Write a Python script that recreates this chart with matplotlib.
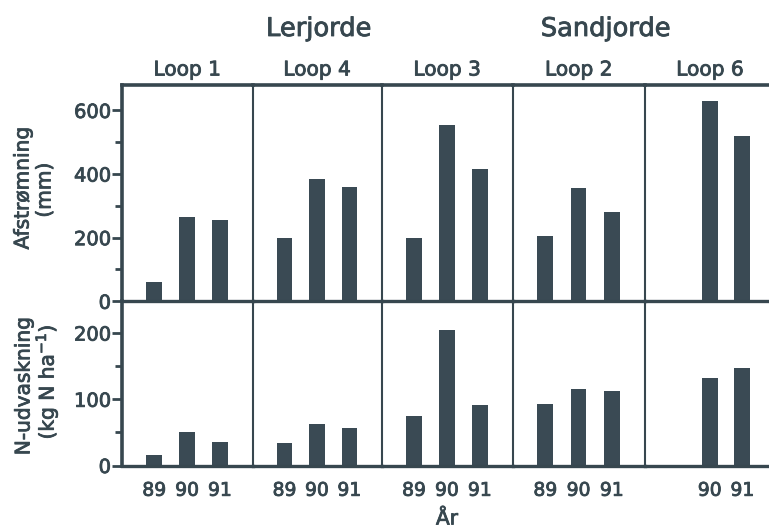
import numpy as np
import matplotlib.pyplot as plt
import matplotlib.patheffects as pe
from matplotlib.ticker import MultipleLocator

plt.rcParams['font.family'] = ['DejaVu Sans']

loops = ["Loop 1", "Loop 4", "Loop 3", "Loop 2", "Loop 6"]
years = ["89", "90", "91"]
groups = ["Lerjorde", "Sandjorde"]

# runoff (mm) per loop for 1989, 1990, 1991 (nan = no measurement)
runoff = [
    [62, 265, 255],
    [200, 385, 360],
    [200, 555, 415],
    [205, 355, 280],
    [np.nan, 630, 520],
]
# nitrogen leaching (kg N/ha) per loop for 1989, 1990, 1991
leaching = [
    [16, 50, 36],
    [34, 62, 56],
    [75, 205, 92],
    [93, 116, 112],
    [np.nan, 132, 148],
]

ink = "#37474f"
bar_color = "#3a4a54"
heavy = [pe.withStroke(linewidth=0.6, foreground=ink)]

W, H = 769, 530
fig = plt.figure(figsize=(W / 100, H / 100), dpi=100)

edges = [122, 252.7, 381.7, 512.7, 645, 775]
top_y0, top_y1 = 84.7, 301.3
bot_y0, bot_y1 = 301.3, 465.5


def px_axes(x0, x1, y0, y1):
    return fig.add_axes([x0 / W, 1 - y1 / H, (x1 - x0) / W, (y1 - y0) / H])


def label(x, y, s, size, **kw):
    fig.text(x / W, 1 - y / H, s, ha="center", va="center", fontsize=size,
             color=ink, path_effects=heavy, **kw)


xpos = np.arange(1, 4)
for i, loop in enumerate(loops):
    x0, x1 = edges[i], edges[i + 1]
    ax_t = px_axes(x0, x1, top_y0, top_y1)
    ax_b = px_axes(x0, x1, bot_y0, bot_y1)

    ax_t.bar(xpos, runoff[i], width=0.48, color=bar_color)
    ax_b.bar(xpos, leaching[i], width=0.48, color=bar_color)

    ax_t.set_ylim(0, 681)
    ax_b.set_ylim(0, 248)
    for ax in (ax_t, ax_b):
        ax.set_xlim(0.02, 4.0)
        ax.set_facecolor("none")
        ax.spines["right"].set_visible(False)
        ax.spines["left"].set_linewidth(2.6 if i == 0 else 1.5)
        ax.spines["left"].set_color(ink)
        ax.spines["bottom"].set_linewidth(2.4)
        ax.spines["bottom"].set_color(ink)
        ax.spines["top"].set_linewidth(2.6)
        ax.spines["top"].set_color(ink)
        ax.tick_params(axis="x", length=0)
    ax_b.spines["top"].set_visible(False)

    ax_t.set_xticks([])
    ax_b.set_xticks(xpos)
    ax_b.set_xticklabels([y if not np.isnan(v) else "" for y, v in zip(years, leaching[i])],
                         fontsize=13.5, color=ink)
    ax_b.tick_params(axis="x", pad=11)
    for t in ax_b.get_xticklabels():
        t.set_path_effects(heavy)

    if i == 0:
        ax_t.yaxis.set_major_locator(MultipleLocator(200))
        ax_t.yaxis.set_minor_locator(MultipleLocator(100))
        ax_b.yaxis.set_major_locator(MultipleLocator(100))
        ax_b.yaxis.set_minor_locator(MultipleLocator(50))
        for ax in (ax_t, ax_b):
            ax.tick_params(axis="y", which="major", length=7, width=2, color=ink,
                           labelsize=14, labelcolor=ink, pad=1)
            ax.tick_params(axis="y", which="minor", length=5, width=2, color=ink)
        ax_t.set_yticks([0, 200, 400, 600])
        ax_b.set_yticks([0, 100, 200])
        for ax in (ax_t, ax_b):
            for t in ax.get_yticklabels():
                t.set_path_effects(heavy)
    else:
        ax_t.set_yticks([])
        ax_b.set_yticks([])
        ax_t.yaxis.set_minor_locator(plt.NullLocator())
        ax_b.yaxis.set_minor_locator(plt.NullLocator())

    label((x0 + x1) / 2, 70, loop, 14.5)

label(319, 29, groups[0], 18.5)
label(606, 29, groups[1], 18.5)

label(23, 188, "Afstrømning", 14.5, rotation=90)
label(45, 190, "(mm)", 14.5, rotation=90)
label(24, 386, "N-udvaskning", 14.5, rotation=90)
label(47, 382, "(kg N ha$^{-1}$)", 14.5, rotation=90)
label(447, 519, "År", 14.5)

fig.savefig("out.png", dpi=100)
